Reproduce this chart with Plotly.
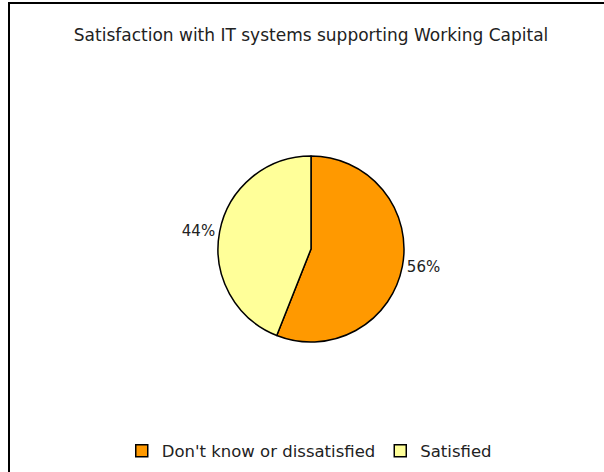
import plotly.graph_objects as go

labels = ["Don't know or dissatisfied", "Satisfied"]
values = [56, 44]
colors = ["#FF9900", "#FFFF99"]
title_text = "Satisfaction with IT systems supporting Working Capital"

W, H = 604, 472
cx, cy, r = 311, 249, 93
FONT = "DejaVu Sans"

fig = go.Figure(go.Pie(
    labels=labels,
    values=values,
    sort=False,
    direction="clockwise",
    rotation=0,
    marker=dict(colors=colors, line=dict(color="black", width=1.5)),
    textinfo="percent",
    textposition="outside",
    texttemplate="%{percent:.0%}",
    textfont=dict(size=15, color="#222", family=FONT),
    domain=dict(x=[(cx - r) / W, (cx + r) / W], y=[1 - (cy + r) / H, 1 - (cy - r) / H]),
    hoverinfo="label+percent",
))

fig.update_layout(
    width=W, height=H,
    margin=dict(l=0, r=0, t=0, b=0),
    paper_bgcolor="white",
    plot_bgcolor="white",
    font=dict(family=FONT, color="#222"),
    title=dict(text=title_text, x=0.515, xanchor="center", y=1 - 35 / H, yanchor="middle",
               font=dict(size=17, family=FONT, color="#222")),
    showlegend=True,
    legend=dict(orientation="h", x=0.512, xanchor="center", y=1 - 451 / H, yanchor="middle",
                font=dict(size=16.5, family=FONT, color="#222"), itemwidth=30,
                traceorder="normal"),
    shapes=[dict(type="rect", xref="paper", yref="paper",
                 x0=9 / W, x1=1.05, y0=-0.05, y1=1 - 3 / H,
                 line=dict(color="black", width=2), fillcolor="rgba(0,0,0,0)")],
)

fig.write_html("out.html")
